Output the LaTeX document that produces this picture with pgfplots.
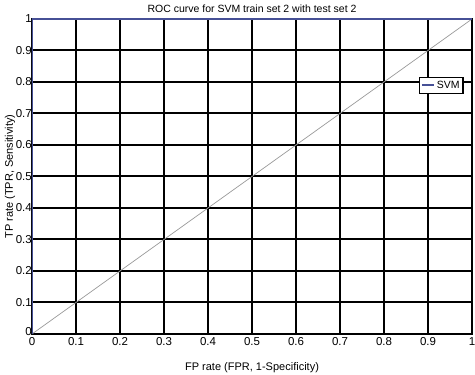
\documentclass[border=0pt]{standalone}
\usepackage{pgfplots}
\pgfplotsset{compat=1.18}
\usepackage{fontspec}
\setmainfont{Liberation Sans}
\definecolor{svmblue}{RGB}{70,80,150}
\begin{document}
\begin{tikzpicture}
\path[use as bounding box] (-32pt,-41pt) rectangle (443pt,334pt);
\begin{axis}[
  scale only axis,
  width=440pt, height=315pt,
  xmin=0, xmax=1, ymin=0, ymax=1,
  xtick={0,0.1,...,1}, ytick={0,0.1,...,1},
  xticklabels={0,0.1,0.2,0.3,0.4,0.5,0.6,0.7,0.8,0.9,1},
  yticklabels={\raisebox{5pt}{0},0.1,0.2,0.3,0.4,0.5,0.6,0.7,0.8,0.9,1},
  grid=major,
  major grid style={black, line width=2pt},
  axis line style={black, line width=2pt},
  tick style={draw=none},
  tick label style={font=\fontsize{11.5}{13}\selectfont},
  /pgf/number format/assume math mode=true,
  xticklabel style={inner sep=1pt, yshift=-2pt},
  yticklabel style={inner sep=1pt, xshift=1pt},
  title={ROC curve for SVM train set 2 with test set 2},
  title style={font=\fontsize{10.5}{12}\selectfont, yshift=-3pt},
  xlabel={FP rate (FPR, 1-Specificity)},
  ylabel={TP rate (TPR, Sensitivity)},
  label style={font=\fontsize{11}{13}\selectfont},
  xlabel style={at={([yshift=-34pt]rel axis cs:0.5,0)}, anchor=center},
  ylabel style={at={([xshift=-22pt]rel axis cs:0,0.5)}, anchor=center},
  legend style={at={(rel axis cs:0.981,0.816)}, anchor=north east,
    draw=black, line width=1.2pt, font=\fontsize{10.5}{12}\selectfont,
    inner sep=1.5pt, row sep=0pt},
  legend cell align=left,
  legend image code/.code={\draw[svmblue, line width=2pt] (0cm,0cm) -- (0.42cm,0cm);},
]
\addplot[gray!80, line width=0.7pt, forget plot] coordinates {(0,0) (1,1)};
\addplot[svmblue, line width=2pt] coordinates {(0,0) (0,1) (1,1)};
\addlegendentry{SVM}
\end{axis}
\end{tikzpicture}
\end{document}
